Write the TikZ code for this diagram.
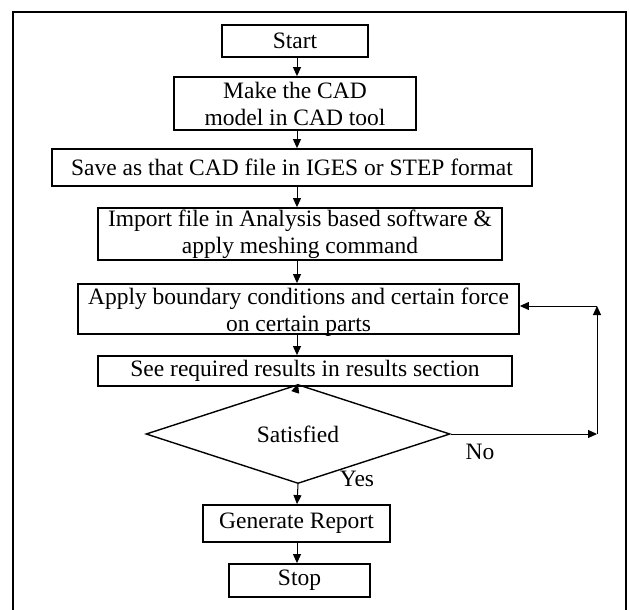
\documentclass[tikz,border=0pt]{standalone}
\usepackage{fontspec}
\setmainfont{Liberation Serif}
\usetikzlibrary{arrows.meta,shapes.geometric}

\tikzset{
  procbox/.style={draw=black, line width=1.8pt, inner sep=0pt, align=center,
    font=\fontsize{23.5}{27}\selectfont},
  decbox/.style={draw=black, line width=1.4pt, diamond, inner sep=0pt,
    font=\fontsize{23.5}{27}\selectfont},
  flow/.style={line width=1pt, -{Triangle[length=9pt,width=8pt]}},
  tag/.style={font=\fontsize{23.5}{27}\selectfont, inner sep=0pt},
  frame/.style={line width=2.6pt, line cap=butt}
}

\begin{document}
\begin{tikzpicture}[x=1pt,y=-1pt]
  \useasboundingbox (0,0) rectangle (629,610);
  \fill[white] (0,0) rectangle (629,610);

  % outer frame, open at the bottom
  \draw[frame] (13,610) -- (13,12) -- (626,12) -- (626,610);

  % main axis of the flow
  \coordinate (ax) at (297,0);

  \node[procbox, minimum width=146pt, minimum height=32pt] (start) at (295,41) {Start};
  \node[procbox, minimum width=242pt, minimum height=53pt] (cad) at (295,103.5)
    {Make the CAD\\model in CAD tool};
  \node[procbox, minimum width=480pt, minimum height=37pt] (save) at (292,167.5)
    {Save as that CAD file in IGES or STEP format};
  \node[procbox, minimum width=404pt, minimum height=52pt] (import) at (300,234)
    {Import file in Analysis based software \&\\apply meshing command};
  \node[procbox, minimum width=441pt, minimum height=50pt] (apply) at (298.5,309) {};
  \node[font=\fontsize{23.5}{27}\selectfont, align=center, inner sep=0pt,
    anchor=center] (applytext) at (298.5,312)
    {Apply boundary conditions and certain force\\on certain parts};
  \node[procbox, minimum width=414pt, minimum height=30pt] (see) at (305,371)
    {See required results in results section};
  \node[decbox, minimum width=304pt, minimum height=56pt] (sat) at (298,434) {Satisfied};
  \node[procbox, minimum width=187pt, minimum height=37pt] (report) at (296.5,523.5)
    {Generate Report};
  \node[procbox, minimum width=141pt, minimum height=33pt] (stop) at (299.5,580.5) {Stop};

  % loop-back corners
  \coordinate (c1) at (597,434);
  \coordinate (c2) at (597,306);

  % vertical flow
  \draw[flow] (ax |- start.south) -- (ax |- cad.north);
  \draw[flow] (ax |- cad.south) -- (ax |- save.north);
  \draw[flow] (ax |- save.south) -- (ax |- import.north);
  \draw[flow] (ax |- import.south) -- (ax |- apply.north);
  \draw[flow] (ax |- apply.south) -- (ax |- see.north);
  \draw[flow] (ax |- see.south) -- (sat.north);
  \draw[flow] (sat.south) -- (ax |- report.north);
  \draw[flow] (ax |- report.south) -- (ax |- stop.north);

  % "No" branch back to the boundary-conditions step
  \draw[flow] (sat.east) -- (c1);
  \draw[flow] (c1) -- (c2);
  \draw[flow] (c2) -- (c2 -| apply.east);

  \node[tag] (no) at (480,452) {No};
  \node[tag] (yes) at (357,479) {Yes};
\end{tikzpicture}
\end{document}
